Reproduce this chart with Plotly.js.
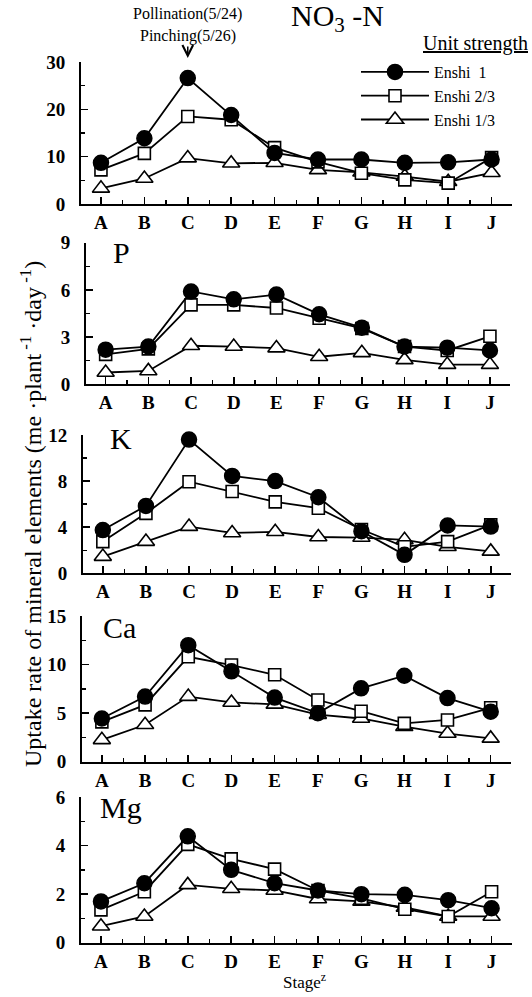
<!DOCTYPE html>
<html>
<head>
<meta charset="utf-8">
<script src="https://cdn.plot.ly/plotly-3.0.1.min.js"></script>
<style>html,body{margin:0;padding:0;background:#fff;}#chart{width:532px;height:997px;}</style>
</head>
<body>
<div id="chart"></div>
<script>
// ---- data ----
const stages = ['A','B','C','D','E','F','G','H','I','J'];
const seriesNames = ['Enshi\u00a0\u00a01', 'Enshi 2/3', 'Enshi 1/3'];
const panelLabels = ['NO3-N', 'P', 'K', 'Ca', 'Mg'];

const no3_e1  = [8.7, 13.9, 26.6, 18.8, 10.8, 9.4, 9.4, 8.7, 8.8, 9.4];
const no3_e23 = [7.2, 10.7, 18.5, 17.8, 11.9, 8.9, 6.5, 5.1, 4.4, 9.8];
const no3_e13 = [3.3, 5.4, 9.7, 8.6, 8.7, 7.2, 6.7, 5.8, 4.7, 6.6];

const p_e1  = [2.2, 2.4, 5.9, 5.4, 5.7, 4.45, 3.6, 2.4, 2.33, 2.15];
const p_e23 = [1.9, 2.25, 5.05, 5.05, 4.85, 4.2, 3.55, 2.4, 2.15, 3.05];
const p_e13 = [0.75, 0.85, 2.45, 2.4, 2.3, 1.75, 2.0, 1.55, 1.25, 1.25];

const k_e1  = [3.75, 5.85, 11.6, 8.45, 8.0, 6.6, 3.65, 1.6, 4.15, 4.05];
const k_e23 = [2.75, 5.2, 7.95, 7.1, 6.2, 5.65, 3.8, 2.3, 2.75, 4.2];
const k_e13 = [1.45, 2.75, 4.05, 3.5, 3.6, 3.15, 3.1, 2.9, 2.3, 1.9];

const ca_e1  = [4.45, 6.7, 12.0, 9.3, 6.6, 5.0, 7.55, 8.85, 6.55, 5.15];
const ca_e23 = [4.1, 5.85, 10.8, 9.95, 8.95, 6.35, 5.2, 3.95, 4.3, 5.55];
const ca_e13 = [2.25, 3.8, 6.7, 6.1, 5.9, 4.85, 4.45, 3.6, 2.9, 2.4];

const mg_e1  = [1.7, 2.45, 4.38, 3.0, 2.45, 2.15, 2.0, 1.97, 1.75, 1.42];
const mg_e23 = [1.35, 2.1, 4.05, 3.45, 3.03, 2.15, 1.83, 1.38, 1.08, 2.1];
const mg_e13 = [0.68, 1.08, 2.38, 2.22, 2.15, 1.8, 1.7, 1.45, 1.08, 1.08];

const yMax   = [30, 9, 12, 15, 6];
const yDtick = [10, 3, 4, 5, 2];

// ---- layout geometry (pixels) ----
const W = 532, H = 997;
const panels = [
  {x0: 81, x1: 512, yt: 62,    yb: 204,   lx: 0,   ly: 0,     data: [no3_e1, no3_e23, no3_e13]},
  {x0: 86, x1: 510, yt: 242.7, yb: 384.3, lx: 111, ly: 253,   data: [p_e1, p_e23, p_e13]},
  {x0: 83, x1: 511, yt: 435,   yb: 573.3, lx: 108, ly: 438,   data: [k_e1, k_e23, k_e13]},
  {x0: 82, x1: 511, yt: 616,   yb: 761.7, lx: 101, ly: 627,   data: [ca_e1, ca_e23, ca_e13]},
  {x0: 81, x1: 512, yt: 797,   yb: 942.7, lx: 98,  ly: 807,   data: [mg_e1, mg_e23, mg_e13]}
];

const FONT = 'Liberation Serif, Times New Roman, serif';
const markerStyles = [
  {symbol: 'circle', size: 15, color: '#000', line: {color: '#000', width: 1.5}},
  {symbol: 'square', size: 12, color: '#fff', line: {color: '#000', width: 1.6}},
  {symbol: 'triangle-up', size: 15, color: '#fff', line: {color: '#000', width: 1.6}}
];

const xs = stages.map((s, i) => i);
const traces = [];
const layout = {
  width: W, height: H,
  margin: {l: 0, r: 0, t: 0, b: 0},
  paper_bgcolor: '#fff', plot_bgcolor: 'rgba(0,0,0,0)',
  font: {family: FONT, color: '#000', size: 16},
  showlegend: true,
  legend: {
    x: 356 / W, y: 1 - 55 / H, xanchor: 'left', yanchor: 'top',
    bgcolor: 'rgba(0,0,0,0)', font: {family: FONT, size: 16, color: '#000'},
    itemwidth: 68, tracegroupgap: 0
  },
  annotations: [],
  shapes: []
};

panels.forEach((p, pi) => {
  const n = pi + 1;
  const xa = 'x' + (n === 1 ? '' : n), ya = 'y' + (n === 1 ? '' : n);
  // draw order: triangle, square, circle (circle on top)
  [2, 1, 0].forEach(si => {
    traces.push({
      x: xs, y: p.data[si], xaxis: xa, yaxis: ya,
      type: 'scatter', mode: 'lines+markers',
      name: seriesNames[si], legendrank: si + 1,
      showlegend: pi === 0,
      line: {color: '#000', width: 1.8},
      marker: markerStyles[si],
      cliponaxis: false, hoverinfo: 'skip'
    });
  });
  const xkey = 'xaxis' + (n === 1 ? '' : n), ykey = 'yaxis' + (n === 1 ? '' : n);
  layout[xkey] = {
    domain: [p.x0 / W, p.x1 / W], anchor: ya,
    range: [-0.46, 9.47], tickmode: 'array', tickvals: xs, ticktext: stages,
    ticks: 'inside', ticklen: 7, tickwidth: 1.6, tickcolor: '#000',
    minor: {tickmode: 'linear', tick0: 0, dtick: 0.5, ticks: 'inside', ticklen: 4, tickwidth: 1.4, tickcolor: '#000'},
    showline: true, linecolor: '#000', linewidth: 2, showgrid: false, zeroline: false,
    tickfont: {family: FONT, size: 19, color: '#000', weight: 'bold'}, ticklabelstandoff: 0,
    fixedrange: true
  };
  layout[ykey] = {
    domain: [1 - p.yb / H, 1 - p.yt / H], anchor: xa,
    range: [0, yMax[pi]], tickmode: 'linear', tick0: 0, dtick: yDtick[pi],
    ticks: 'inside', ticklen: 7, tickwidth: 1.6, tickcolor: '#000',
    minor: {tickmode: 'linear', tick0: 0, dtick: yDtick[pi] / 2, ticks: 'inside', ticklen: 4, tickwidth: 1.4, tickcolor: '#000'},
    showline: true, linecolor: '#000', linewidth: 2, showgrid: false, zeroline: false,
    tickfont: {family: FONT, size: 19, color: '#000', weight: 'bold'}, ticklabelstandoff: 10,
    fixedrange: true
  };
  if (pi > 0) {
    layout.annotations.push({
      xref: 'paper', yref: 'paper', x: p.lx / W, y: 1 - p.ly / H,
      xanchor: 'left', yanchor: 'middle', showarrow: false,
      text: panelLabels[pi], font: {family: FONT, size: 30, color: '#000'}
    });
  }
});

// x-axis title
layout.annotations.push({
  xref: 'paper', yref: 'paper', x: 304 / W, y: 1 - 981 / H, xanchor: 'center', yanchor: 'middle',
  showarrow: false, text: 'Stage<sup>z</sup>', font: {family: FONT, size: 17, color: '#000'}
});
// main title
layout.annotations.push({
  xref: 'paper', yref: 'paper', x: 337 / W, y: 1 - 18 / H, xanchor: 'center', yanchor: 'middle',
  showarrow: false, text: 'NO<sub>3</sub> -N', font: {family: FONT, size: 30, color: '#000'}
});
// legend heading
layout.annotations.push({
  xref: 'paper', yref: 'paper', x: 421 / W, y: 1 - 43 / H, xanchor: 'left', yanchor: 'middle',
  showarrow: false, text: '<u>Unit strength</u>', font: {family: FONT, size: 20, color: '#000'}
});
// pollination / pinching
layout.annotations.push({
  xref: 'x', yref: 'paper', x: 2, y: 1 - 14 / H, xanchor: 'center', yanchor: 'middle',
  showarrow: false, text: 'Pollination(5/24)', font: {family: FONT, size: 16, color: '#000'}
});
layout.annotations.push({
  xref: 'x', yref: 'paper', x: 2, y: 1 - 58 / H, ax: 0, ay: -22,
  showarrow: true, arrowhead: 5, arrowsize: 1.4, arrowwidth: 1.5, arrowcolor: '#000', standoff: 0,
  text: 'Pinching(5/26)', font: {family: FONT, size: 16, color: '#000'}
});
// y-axis title
layout.annotations.push({
  xref: 'paper', yref: 'paper', x: 31 / W, y: 1 - 514 / H, xanchor: 'center', yanchor: 'middle',
  showarrow: false, textangle: -90,
  text: 'Uptake rate of mineral elements (me \u00b7plant<sup> -1</sup> \u00b7day<sup> -1</sup>)',
  font: {family: FONT, size: 24, color: '#000'}
});

Plotly.newPlot('chart', traces, layout, {staticPlot: true, displayModeBar: false});
</script>
</body>
</html>
